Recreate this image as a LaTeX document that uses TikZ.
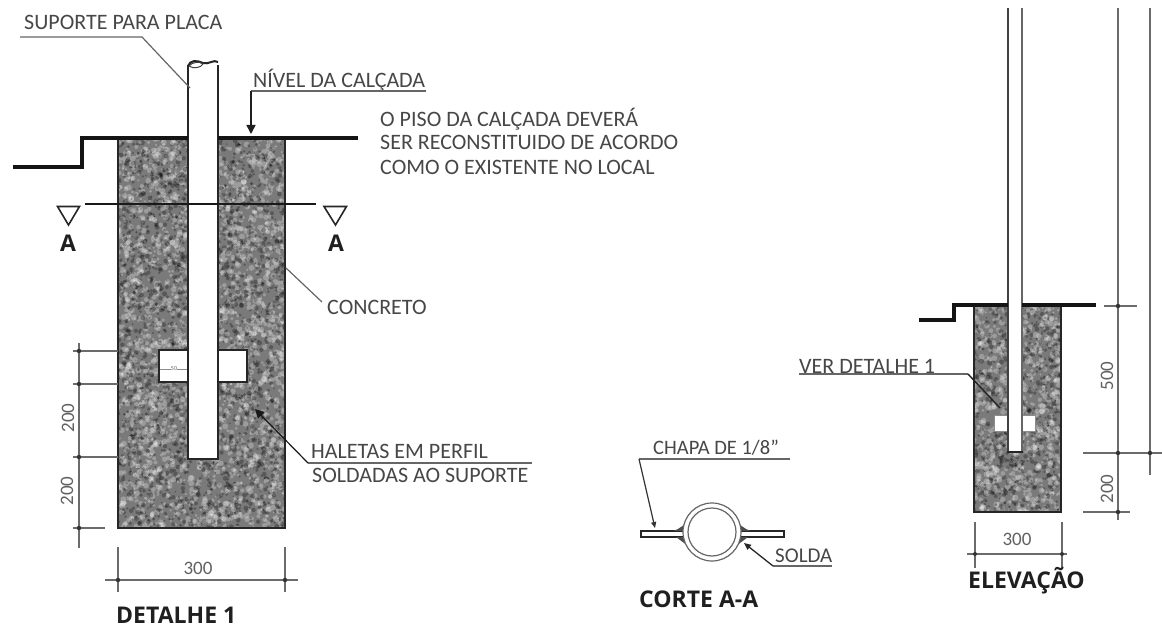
\documentclass[tikz,border=0pt]{standalone}
\usepackage{fontspec}
\setmainfont{Carlito}
\newfontfamily\tituloFont{Open Sans}
\usetikzlibrary{arrows.meta}
\tikzset{
  rotulo/.style={inner sep=0pt,anchor=base west,text=black!72,font=\fontsize{22}{24}\selectfont},
  cota/.style={inner sep=0pt,text=black!62,font=\fontsize{19}{21}\selectfont},
  titulo/.style={inner sep=0pt,anchor=base west,text=black!88,font=\tituloFont\bfseries\fontsize{23}{25}\selectfont},
  guia/.style={draw=black!60,line width=1.2pt},
  linhacota/.style={draw=black!58,line width=1.1pt},
  grossa/.style={draw=black!92,line width=3.2pt,line join=miter},
  contorno/.style={draw=black!85,line width=2pt},
  seta/.style={-{Triangle[length=9pt,width=9pt]}},
  ponto/.style={fill=black!80,draw=none}
}
% concrete block: x0 y0 x1 y1 and number of grains
\newcommand{\concreto}[5]{
  \fill[black!52] (#1,#2) rectangle (#3,#4);
  \begin{scope}
    \clip (#1,#2) rectangle (#3,#4);
    \foreach \i in {1,...,#5}{
      \fill[white,opacity=0.26] ({#1+rnd*(#3-#1)},{#2+rnd*(#4-#2)}) circle ({1.1+rnd*2});
      \fill[black,opacity=0.28] ({#1+rnd*(#3-#1)},{#2+rnd*(#4-#2)}) circle ({0.8+rnd*1.7});
    }
  \end{scope}
  \draw[contorno] (#1,#2) rectangle (#3,#4);
}
\begin{document}
\begin{tikzpicture}[x=1pt,y=-1pt]
\pgfmathsetseed{4213}
\useasboundingbox (0,0) rectangle (1162,628);
\fill[white] (0,0) rectangle (1162,628);

% detalhe 1
\concreto{118}{138}{285}{528}{2600}
\fill[white] (188,62) rectangle (218,459);
\fill[white] (159,350) rectangle (188,382);
\fill[white] (218,350) rectangle (247,382);
\draw[contorno] (188,350) -- (159,350) -- (159,382) -- (188,382);
\draw[contorno] (218,350) -- (247,350) -- (247,382) -- (218,382);
\draw[contorno] (188,65) -- (188,459) -- (218,459) -- (218,65);
\draw[contorno] (188,66) .. controls (190,60) and (197,60) .. (203,63) .. controls (208,65) and (214,59) .. (218,62);
\draw[black!75,line width=1pt] (189,66) .. controls (193,69) and (201,68) .. (203,64) .. controls (200,61) and (192,62) .. (189,66);
\draw[grossa] (13,167) -- (82,167) -- (82,138) -- (188,138);
\draw[grossa] (218,138) -- (358,138);
\draw[black!90,line width=1.3pt] (85,204) -- (316,204);
\draw[black!85,line width=1.6pt] (57.5,206.5) -- (79.5,206.5) -- (68.5,225) -- cycle;
\draw[black!85,line width=1.6pt] (324,206.5) -- (346.5,206.5) -- (335.5,225) -- cycle;
\node[titulo,anchor=base] (corteE) at (68,252) {A};
\node[titulo,anchor=base] (corteD) at (336,252) {A};
\node[cota,font=\fontsize{6}{7}\selectfont] (cinquenta) at (174,369) {50};
\draw[black!45,line width=0.8pt] (160,369) -- (cinquenta) -- (187,369);

\node[rotulo] (suporte) at (24,30) {SUPORTE PARA PLACA};
\coordinate (supA) at (20,37);
\coordinate (supB) at (142,37);
\coordinate (supC) at (190,88);
\draw[guia] (supA) -- (supB) -- (supC);

\node[rotulo] (nivel) at (253,88) {NÍVEL DA CALÇADA};
\coordinate (nivA) at (426,91);
\coordinate (nivB) at (251,91);
\coordinate (nivC) at (251,134);
\draw[guia] (nivA) -- (nivB);
\draw[draw=black!88,line width=1.5pt,seta] (nivB) -- (nivC);

\node[rotulo] (pisoA) at (380,127) {O PISO DA CALÇADA DEVERÁ};
\node[rotulo] (pisoB) at (380,150) {SER RECONSTITUIDO DE ACORDO};
\node[rotulo] (pisoC) at (380,175) {COMO O EXISTENTE NO LOCAL};

\node[rotulo] (concretoTxt) at (327,315) {CONCRETO};
\coordinate (conA) at (322,302);
\coordinate (conB) at (286,268);
\draw[guia] (conA) -- (conB);

\node[rotulo] (haletaA) at (311,458) {HALETAS EM PERFIL};
\node[rotulo] (haletaB) at (312,482) {SOLDADAS AO SUPORTE};
\coordinate (halA) at (532,463);
\coordinate (halB) at (308,463);
\coordinate (halC) at (255,409);
\draw[guia] (halA) -- (halB);
\draw[draw=black!90,line width=1.2pt,seta] (halB) -- (halC);

% cotas do detalhe
\draw[linhacota] (79,343) -- (79,548);
\foreach \y/\xf in {351/118,384/118,457/118,528/105}{
  \draw[linhacota] (73,\y) -- (\xf,\y);
  \fill[ponto] (79,\y) circle (2.2);
}
\node[cota,rotate=90] (cotaA) at (68,418) {200};
\node[cota,rotate=90] (cotaB) at (67,491) {200};
\draw[linhacota] (105,580) -- (298,580);
\foreach \x in {118,285}{
  \draw[linhacota] (\x,547) -- (\x,592);
  \fill[ponto] (\x,580) circle (2.2);
}
\node[cota] (cotaC) at (198,568) {300};
\node[titulo] (detalhe) at (116,623) {DETALHE 1};

% corte a-a
\draw[contorno,fill=white] (641,531) rectangle (784,537);
\fill[black!70] (673,531) .. controls (680,529) and (684,525) .. (689,519) -- (695,531) -- cycle;
\fill[black!70] (751,531) .. controls (744,529) and (740,525) .. (735,519) -- (729,531) -- cycle;
\fill[black!70] (676,537) .. controls (680,540) and (684,543) .. (688,546) -- (695,537) -- cycle;
\fill[black!70] (748,537) .. controls (744,540) and (740,543) .. (736,546) -- (729,537) -- cycle;
\draw[black!60,line width=1.2pt,fill=white] (712,532) circle (29);
\draw[black!60,line width=1.2pt] (712,532) circle (24);
\node[rotulo,font=\fontsize{20.5}{22}\selectfont] (chapa) at (653,454) {CHAPA DE 1/8"};
\coordinate (chaA) at (790,459);
\coordinate (chaB) at (639,459);
\coordinate (chaC) at (655,528);
\draw[guia] (chaA) -- (chaB);
\draw[draw=black!80,line width=1.2pt,-{Triangle[length=6pt,width=5pt]}] (chaB) -- (chaC);
\node[rotulo,font=\fontsize{21}{23}\selectfont] (solda) at (775,562) {SOLDA};
\coordinate (solA) at (832,566);
\coordinate (solB) at (773,566);
\coordinate (solC) at (744,543);
\draw[guia] (solA) -- (solB);
\draw[draw=black!85,line width=1.3pt,-{Triangle[length=7pt,width=6pt]}] (solB) -- (solC);
\node[titulo] (corte) at (639,607) {CORTE A-A};

% elevacao
\concreto{974}{306}{1061}{512}{750}
\fill[white] (1008,8) rectangle (1022,452);
\fill[white] (994,415) rectangle (1008,431);
\fill[white] (1022,415) rectangle (1035,431);
\draw[black!45,line width=1pt] (1008,415) -- (994,415) -- (994,431) -- (1008,431);
\draw[black!45,line width=1pt] (1022,415) -- (1035,415) -- (1035,431) -- (1022,431);
\draw[black!75,line width=2.6pt] (1008,8) -- (1008,452);
\draw[black!60,line width=2pt] (1022,8) -- (1022,452);
\draw[contorno,line width=2.6pt] (1007,452) -- (1023,452);
\draw[grossa] (919,320) -- (954,320) -- (954,305) -- (1008,305);
\draw[grossa] (1022,305) -- (1096,305);
\node[rotulo] (verdet) at (799,373) {VER DETALHE 1};
\coordinate (verA) at (799,374);
\coordinate (verB) at (968,374);
\coordinate (verC) at (1000,408);
\draw[guia] (verA) -- (verB);
\draw[black!85,line width=1.5pt] (verB) -- (verC);
\draw[linhacota] (1118,8) -- (1118,520);
\draw[linhacota] (1150,8) -- (1150,475);
\draw[linhacota] (1104,306) -- (1137,306);
\draw[linhacota] (1083,453) -- (1162,453);
\draw[linhacota] (1083,512) -- (1130,512);
\foreach \y in {306,453,512}{\fill[ponto] (1118,\y) circle (2.2);}
\fill[ponto] (1150,453) circle (2.2);
\node[cota,rotate=90] (cotaD) at (1107,376) {500};
\node[cota,rotate=90] (cotaE) at (1107,489) {200};
\draw[linhacota] (967,554) -- (1067,554);
\foreach \x in {975,1062}{
  \draw[linhacota] (\x,522) -- (\x,568);
  \fill[ponto] (\x,554) circle (2);
}
\node[cota] (cotaF) at (1017,539) {300};
\node[titulo] (elevacao) at (968,588) {ELEVAÇÃO};
\end{tikzpicture}
\end{document}
